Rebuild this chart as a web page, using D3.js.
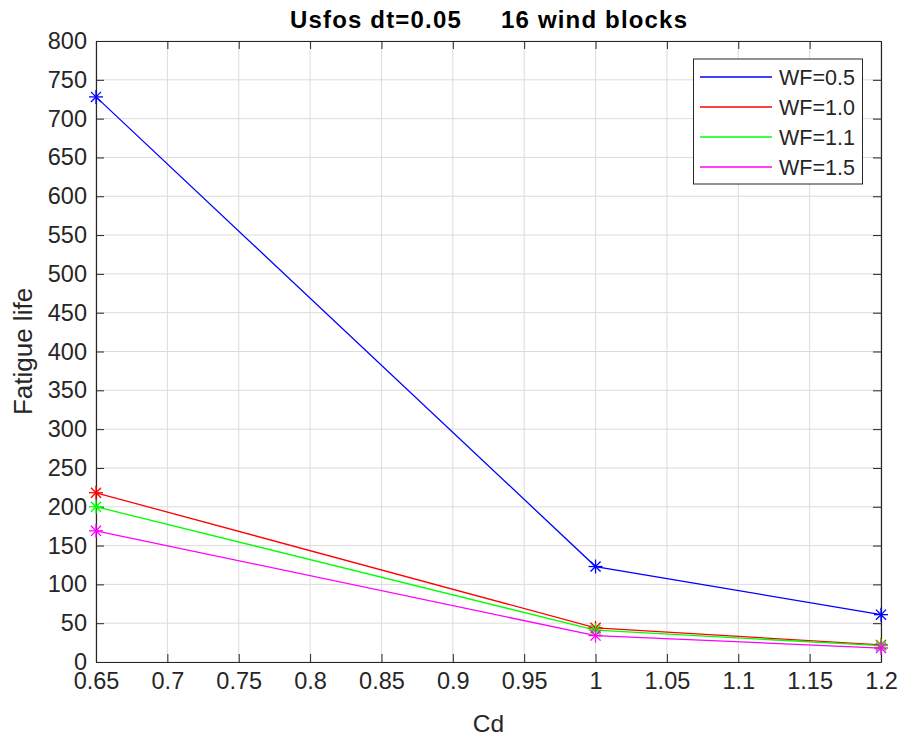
<!DOCTYPE html>
<html>
<head>
<meta charset="utf-8">
<script src="https://cdn.jsdelivr.net/npm/d3@7"></script>
<style>
  html, body { margin: 0; padding: 0; background: #fff; }
  svg text { font-family: "Liberation Sans", Arial, Helvetica, sans-serif; }
</style>
</head>
<body>
<div id="chart"></div>
<script>
// Fatigue life vs drag coefficient for several wind factors
const cdValues = [0.65, 1.0, 1.2];
const seriesNames = ["WF=0.5", "WF=1.0", "WF=1.1", "WF=1.5"];
const wf05 = [728, 123, 61];
const wf10 = [218, 44, 22];
const wf11 = [200, 41, 21];
const wf15 = [169, 34, 18];
const seriesColors = ["#0000ff", "#ff0000", "#00ff00", "#ff00ff"];
const xTicks = [0.65, 0.7, 0.75, 0.8, 0.85, 0.9, 0.95, 1, 1.05, 1.1, 1.15, 1.2];
const yTicks = [0, 50, 100, 150, 200, 250, 300, 350, 400, 450, 500, 550, 600, 650, 700, 750, 800];
const titleText = "Usfos dt=0.05     16 wind blocks";
const xLabel = "Cd";
const yLabel = "Fatigue life";

const seriesValues = [wf05, wf10, wf11, wf15];
const series = seriesNames.map((name, i) => ({
  name, color: seriesColors[i],
  points: cdValues.map((cd, j) => ({ x: cd, y: seriesValues[i][j] }))
}));

const W = 901, H = 738;
const plot = { left: 96, right: 881, top: 41, bottom: 662 };
const axisColor = "#262626";

const svg = d3.select("#chart").append("svg")
  .attr("width", W).attr("height", H);

const x = d3.scaleLinear().domain([0.65, 1.2]).range([plot.left, plot.right]);
const y = d3.scaleLinear().domain([0, 800]).range([plot.bottom, plot.top]);

// grid
const grid = svg.append("g");
grid.selectAll("line.gx").data(xTicks).join("line")
  .attr("x1", d => x(d)).attr("x2", d => x(d))
  .attr("y1", plot.top).attr("y2", plot.bottom)
  .attr("stroke", "#dcdcdc").attr("stroke-width", 1);
grid.selectAll("line.gy").data(yTicks).join("line")
  .attr("y1", d => y(d)).attr("y2", d => y(d))
  .attr("x1", plot.left).attr("x2", plot.right)
  .attr("stroke", "#dcdcdc").attr("stroke-width", 1);

const fmt = d => String(+d.toFixed(2));
const tickLen = 8;

// bottom axis with labels
const xAxis = d3.axisBottom(x).tickValues(xTicks).tickFormat(fmt)
  .tickSizeInner(-tickLen).tickSizeOuter(0).tickPadding(10);
const gx = svg.append("g").attr("transform", `translate(0,${plot.bottom})`).call(xAxis);
// top axis (ticks only)
const gxt = svg.append("g").attr("transform", `translate(0,${plot.top})`)
  .call(d3.axisTop(x).tickValues(xTicks).tickFormat("").tickSizeInner(-tickLen).tickSizeOuter(0));
// left axis with labels
const yAxis = d3.axisLeft(y).tickValues(yTicks).tickFormat(fmt)
  .tickSizeInner(-tickLen).tickSizeOuter(0).tickPadding(9);
const gy = svg.append("g").attr("transform", `translate(${plot.left},0)`).call(yAxis);
// right axis (ticks only)
const gyr = svg.append("g").attr("transform", `translate(${plot.right},0)`)
  .call(d3.axisRight(y).tickValues(yTicks).tickFormat("").tickSizeInner(-tickLen).tickSizeOuter(0));

[gx, gxt, gy, gyr].forEach(g => {
  g.select(".domain").attr("stroke", axisColor).attr("stroke-width", 1.2);
  g.selectAll(".tick line").attr("stroke", axisColor).attr("stroke-width", 1);
  g.selectAll(".tick text").attr("fill", axisColor)
    .style("font-size", "23.5px").style("font-family", '"Liberation Sans", Arial, sans-serif');
});
gy.selectAll(".tick text").attr("dy", "0.32em");

// data lines
const line = d3.line().x(d => x(d.x)).y(d => y(d.y));
const lines = svg.append("g");
series.forEach(s => {
  lines.append("path").datum(s.points)
    .attr("d", line).attr("fill", "none")
    .attr("stroke", s.color).attr("stroke-width", 1.3);
});

// asterisk markers
const r = 7;
const starSegs = [[-r, 0, r, 0], [0, -r, 0, r],
  [-r * 0.72, -r * 0.72, r * 0.72, r * 0.72], [-r * 0.72, r * 0.72, r * 0.72, -r * 0.72]];
series.forEach(s => {
  const mk = svg.append("g").selectAll("g").data(s.points).join("g")
    .attr("transform", d => `translate(${x(d.x)},${y(d.y)})`);
  starSegs.forEach(sg => {
    mk.append("line")
      .attr("x1", sg[0]).attr("y1", sg[1]).attr("x2", sg[2]).attr("y2", sg[3])
      .attr("stroke", s.color).attr("stroke-width", 1.3);
  });
});

// title
svg.append("text")
  .attr("x", (plot.left + plot.right) / 2).attr("y", 28)
  .attr("text-anchor", "middle")
  .style("font-size", "24px").style("font-weight", "bold")
  .attr("fill", "#000")
  .attr("textLength", 397).attr("lengthAdjust", "spacing")
  .attr("xml:space", "preserve").style("white-space", "pre")
  .text(titleText);

// axis labels
svg.append("text")
  .attr("x", (plot.left + plot.right) / 2).attr("y", 732)
  .attr("text-anchor", "middle").attr("fill", axisColor)
  .style("font-size", "24.5px")
  .text(xLabel);
svg.append("text")
  .attr("transform", `translate(32,${(plot.top + plot.bottom) / 2}) rotate(-90)`)
  .attr("text-anchor", "middle").attr("fill", axisColor)
  .style("font-size", "26px")
  .text(yLabel);

// legend
const lg = svg.append("g");
lg.append("rect")
  .attr("x", 693.5).attr("y", 59).attr("width", 169).attr("height", 125)
  .attr("fill", "#fff").attr("stroke", axisColor).attr("stroke-width", 1);
series.forEach((s, i) => {
  const ly = 77 + i * 30;
  lg.append("line").attr("x1", 700).attr("x2", 772).attr("y1", ly).attr("y2", ly)
    .attr("stroke", s.color).attr("stroke-width", 1.3);
  lg.append("text").attr("x", 779).attr("y", ly).attr("dy", "0.36em")
    .attr("fill", axisColor).style("font-size", "21.5px").text(s.name);
});
</script>
</body>
</html>
